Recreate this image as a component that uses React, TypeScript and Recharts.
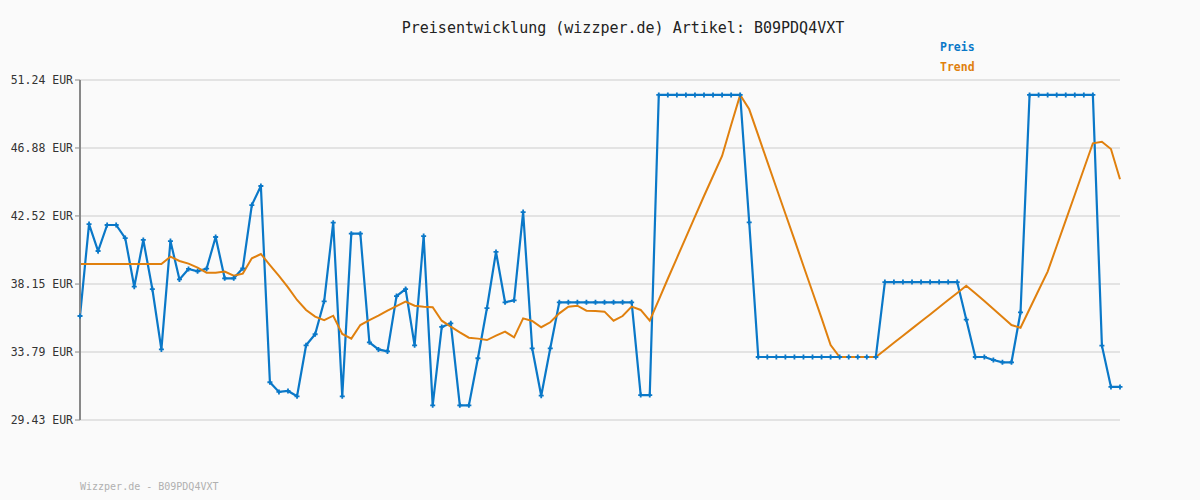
import React from 'react';
import { LineChart, Line, XAxis, YAxis, CartesianGrid } from 'recharts';

// Observed prices per sampling step (EUR)
const PRICE: number[] = [
  36.10, 42.00, 40.27, 41.94, 41.94, 41.10, 37.98, 40.98, 37.83, 33.96,
  40.91, 38.45, 39.12, 38.97, 39.14, 41.17, 38.52, 38.52, 39.16, 43.22,
  44.44, 31.85, 31.23, 31.29, 30.95, 34.22, 34.93, 37.04, 42.09, 30.95,
  41.38, 41.38, 34.41, 33.96, 33.83, 37.38, 37.83, 34.22, 41.23, 30.37,
  35.40, 35.63, 30.37, 30.37, 33.39, 36.61, 40.21, 36.98, 37.11, 42.77,
  34.03, 30.99, 34.03, 36.98, 36.98, 36.98, 36.98, 36.98, 36.98, 36.98,
  36.98, 36.98, 31.03, 31.03, 50.28, 50.28, 50.28, 50.28, 50.28, 50.28,
  50.28, 50.28, 50.28, 50.28, 42.11, 33.47, 33.47, 33.47, 33.47, 33.47,
  33.47, 33.47, 33.47, 33.47, 33.47, 33.47, 33.47, 33.47, 33.47, 38.28,
  38.28, 38.28, 38.28, 38.28, 38.28, 38.28, 38.28, 38.28, 35.87, 33.47,
  33.47, 33.28, 33.13, 33.13, 36.34, 50.28, 50.28, 50.28, 50.28, 50.28,
  50.28, 50.28, 50.28, 34.20, 31.55, 31.55,
];

// Smoothed trend per sampling step (EUR)
const TREND: number[] = [
  39.44, 39.44, 39.44, 39.44, 39.44, 39.44, 39.44, 39.44, 39.44, 39.44,
  39.91, 39.63, 39.46, 39.20, 38.88, 38.88, 38.95, 38.69, 38.82, 39.80,
  40.08, 39.37, 38.67, 37.94, 37.13, 36.49, 36.06, 35.84, 36.12, 34.95,
  34.65, 35.52, 35.84, 36.12, 36.44, 36.74, 37.02, 36.76, 36.70, 36.66,
  35.80, 35.42, 35.05, 34.71, 34.65, 34.56, 34.84, 35.10, 34.73, 35.95,
  35.78, 35.38, 35.70, 36.27, 36.70, 36.76, 36.44, 36.42, 36.38, 35.80,
  36.10, 36.70, 36.49, 35.80, 37.13, 38.49, 39.82, 41.15, 42.47, 43.80,
  45.08, 46.37, 48.35, 50.28, 49.36, 47.69, 46.00, 44.33, 42.66, 41.00,
  39.31, 37.64, 35.97, 34.24, 33.47, 33.47, 33.47, 33.47, 33.47, 33.92,
  34.38, 34.84, 35.29, 35.75, 36.20, 36.66, 37.13, 37.58, 38.04, 37.56,
  37.06, 36.55, 36.04, 35.52, 35.35, 36.55, 37.75, 38.95, 40.59, 42.24,
  43.88, 45.53, 47.18, 47.28, 46.81, 44.87,
];

const Y_TICKS: number[] = [51.24, 46.88, 42.52, 38.15, 33.79, 29.43];

const TITLE = 'Preisentwicklung (wizzper.de) Artikel: B09PDQ4VXT';
const FOOTER = 'Wizzper.de - B09PDQ4VXT';
const LEGEND = [
  { label: 'Preis', color: '#0a78c8' },
  { label: 'Trend', color: '#e0800e' },
];

const BLUE = '#0a78c8';
const ORANGE = '#e0800e';
const MONO = '"DejaVu Sans Mono", "Liberation Mono", monospace';

const data = PRICE.map((p, i) => ({ step: i, preis: p, trend: TREND[i] }));

const PlusDot = (props: any) => {
  const { cx, cy, index } = props;
  if (cx == null || cy == null) return null;
  return (
    <path
      key={`d-${index}`}
      d={`M${cx - 2.5},${cy}h5M${cx},${cy - 2.5}v5`}
      stroke={BLUE}
      strokeWidth={1.8}
      fill="none"
    />
  );
};

export default function App() {
  return (
    <div
      style={{
        position: 'fixed',
        left: 0,
        top: 0,
        width: 1200,
        height: 500,
        background: '#fafafa',
        fontFamily: MONO,
      }}
    >
      <div
        style={{
          position: 'absolute',
          left: 623,
          top: 20,
          transform: 'translateX(-50%)',
          fontSize: 15,
          lineHeight: '16px',
          color: '#222',
          whiteSpace: 'nowrap',
        }}
      >
        {TITLE}
      </div>
      {LEGEND.map((l, i) => (
        <div
          key={l.label}
          style={{
            position: 'absolute',
            left: 940,
            top: 40 + i * 20,
            fontSize: 11.5,
            lineHeight: '14px',
            fontWeight: 'bold',
            color: l.color,
          }}
        >
          {l.label}
        </div>
      ))}
      <LineChart
        width={1200}
        height={500}
        data={data}
        margin={{ top: 80, right: 80, bottom: 80, left: 0 }}
      >
        <CartesianGrid vertical={false} stroke="#e3e3e3" strokeWidth={2} />
        <XAxis
          dataKey="step"
          type="number"
          domain={[0, 115]}
          tick={false}
          tickLine={false}
          axisLine={{ stroke: '#888', strokeWidth: 2 }}
          height={0}
        />
        <YAxis
          width={80}
          type="number"
          domain={[29.43, 51.24]}
          ticks={Y_TICKS}
          allowDataOverflow
          interval={0}
          tickFormatter={(v: number) => `${v.toFixed(2)} EUR`}
          axisLine={{ stroke: '#888', strokeWidth: 2 }}
          tickLine={{ stroke: '#888' }}
          tickSize={5}
          tick={{ fontFamily: MONO, fontSize: 11.5, fill: '#333' }}
        />
        <Line
          type="linear"
          dataKey="preis"
          stroke={BLUE}
          strokeWidth={2.2}
          dot={PlusDot}
          activeDot={false}
          isAnimationActive={false}
        />
        <Line
          type="linear"
          dataKey="trend"
          stroke={ORANGE}
          strokeWidth={2}
          dot={false}
          activeDot={false}
          isAnimationActive={false}
        />
      </LineChart>
      <div
        style={{
          position: 'absolute',
          left: 80,
          top: 481,
          fontSize: 10,
          lineHeight: '12px',
          color: '#b0b0b0',
          whiteSpace: 'nowrap',
        }}
      >
        {FOOTER}
      </div>
    </div>
  );
}
